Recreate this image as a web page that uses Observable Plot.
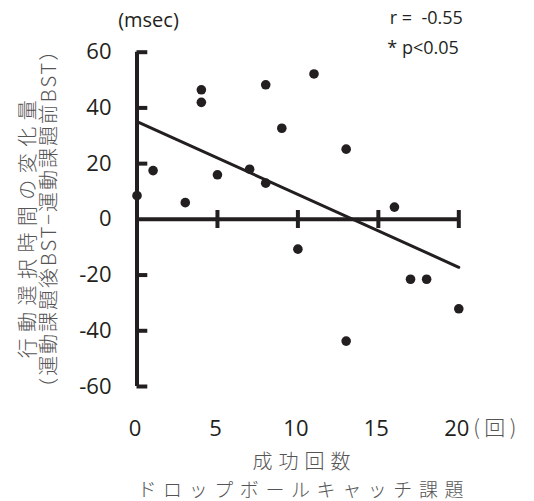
<!DOCTYPE html>
<html><head><meta charset="utf-8">
<script src="https://cdn.jsdelivr.net/npm/d3@7"></script>
<script src="https://cdn.jsdelivr.net/npm/@observablehq/plot@0.6"></script>
<style>
body{margin:0;background:#fff;}
#chart svg{display:block;}
</style>
</head><body><div id="chart"></div>
<script>
// Data
const successCounts = [0, 1, 3, 4, 4, 5, 7, 8, 8, 9, 11, 13, 16, 10, 17, 18, 20, 13];
const rtChange = [8.5, 17.5, 6, 46.5, 42, 16, 18, 48.3, 13, 32.7, 52.2, 25.2, 4.4, -10.7, -21.5, -21.5, -32.1, -43.7];
const fitX = [0, 20];
const fitY = [35.1, -17.2];
const xTicks = [0, 5, 10, 15, 20];
const yTicks = [-60, -40, -20, 0, 20, 40, 60];
const xTickMarks = [5, 10, 15, 20];
const yTickMarks = [-60, -40, -20, 20, 40, 60];
const yTitle1 = ["行動選択時間の変化量"];
const yTitle2 = ["（運動課題後BST−運動課題前BST）"];
const xTitle1 = ["成功回数"];
const xTitle2 = ["ドロップボールキャッチ課題"];
const unitX = ["(回)"];
const unitY = ["(msec)"];
const statR = ["r =\u00a0 -0.55"];
const statP = ["* p<0.05"];

const ink = "#231f20";
const gray = "#555";
const numFont = "Open Sans, Noto Sans, sans-serif";
const jpFont = "Noto Sans CJK JP, sans-serif";

const chart = Plot.plot({
  width: 534,
  height: 501,
  marginLeft: 136.5,
  marginRight: 75.7,
  marginTop: 51.7,
  marginBottom: 115,
  x: {domain: [0, 20], axis: null},
  y: {domain: [-60, 60], axis: null},
  style: {background: "#fff", color: ink},
  marks: [
    Plot.ruleX([0], {stroke: ink, strokeWidth: 4}),
    Plot.ruleY([0], {stroke: ink, strokeWidth: 4}),
    Plot.tickX(xTickMarks, {x: d => d, stroke: ink, strokeWidth: 4, insetTop: 158.3, insetBottom: 158}),
    Plot.tickY(yTickMarks, {y: d => d, stroke: ink, strokeWidth: 4, insetRight: 311}),
    Plot.text(yTicks, {y: d => d, text: d => String(d), frameAnchor: "left", textAnchor: "end", lineAnchor: "middle", dx: -25.5, fontSize: 22, fontFamily: numFont, fill: ink}),
    Plot.text(xTicks, {x: d => d, text: d => String(d), frameAnchor: "bottom", textAnchor: "middle", lineAnchor: "middle", dx: -2, dy: 42, fontSize: 22, fontFamily: numFont, fill: ink}),
    Plot.line(fitX, {x: fitX, y: fitY, stroke: ink, strokeWidth: 3}),
    Plot.dot(successCounts, {x: successCounts, y: rtChange, r: 4.8, fill: ink, stroke: "none"}),
    Plot.text(unitY, {text: d => d, frameAnchor: "top-left", textAnchor: "middle", lineAnchor: "middle", dx: 11.5, dy: -32, fontSize: 20, fontFamily: numFont, fill: ink}),
    Plot.text(statR, {text: d => d, frameAnchor: "top-right", textAnchor: "end", lineAnchor: "middle", dx: 4, dy: -34, fontSize: 18, fontFamily: numFont, fill: ink}),
    Plot.text(statP, {text: d => d, frameAnchor: "top-right", textAnchor: "end", lineAnchor: "middle", dx: 0, dy: -4, fontSize: 18, fontFamily: numFont, fill: ink}),
    Plot.text(unitX, {text: d => d, frameAnchor: "bottom-right", textAnchor: "middle", lineAnchor: "middle", dx: 36, dy: 42, fontSize: 21, fontFamily: jpFont, fontWeight: 300, fill: gray}),
    Plot.text(yTitle1, {text: d => d, frameAnchor: "left", rotate: -90, textAnchor: "middle", lineAnchor: "middle", dx: -108.5, dy: 10, fontSize: 20, fontFamily: jpFont, fontWeight: 300, fill: gray}),
    Plot.text(yTitle2, {text: d => d, frameAnchor: "left", rotate: -90, textAnchor: "middle", lineAnchor: "middle", dx: -87.5, dy: 0, fontSize: 20, fontFamily: jpFont, fontWeight: 300, fill: gray}),
    Plot.text(xTitle1, {text: d => d, frameAnchor: "bottom", textAnchor: "middle", lineAnchor: "middle", dx: 3.6, dy: 76.5, fontSize: 20, fontFamily: jpFont, fontWeight: 300, fill: gray}),
    Plot.text(xTitle2, {text: d => d, frameAnchor: "bottom", textAnchor: "middle", lineAnchor: "middle", dx: 2.6, dy: 104, fontSize: 19, fontFamily: jpFont, fontWeight: 300, fill: gray})
  ]
});
document.getElementById("chart").appendChild(chart);

// spread the Japanese titles to the lengths they take in the reference
const spans = new Map([[yTitle1[0], 258], [yTitle2[0], 357], [xTitle1[0], 98], [xTitle2[0], 326], [unitX[0], 43]]);
d3.select(chart).selectAll("text").each(function () {
  const len = spans.get(this.textContent);
  if (!len) return;
  const natural = this.getComputedTextLength();
  const n = Array.from(this.textContent).length;
  const s = Math.max(0, (len - natural) / (n - 1));
  d3.select(this).style("letter-spacing", s + "px").attr("dx", s / 2);
});
</script>
</body></html>
